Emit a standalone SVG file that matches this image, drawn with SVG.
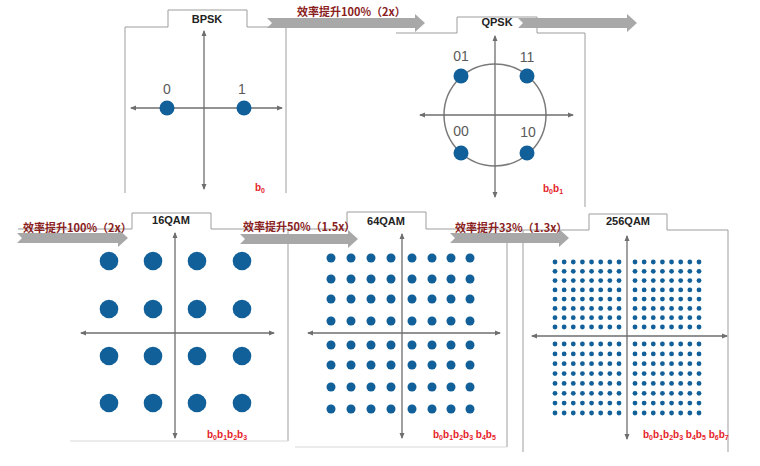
<svg xmlns="http://www.w3.org/2000/svg" xmlns:xlink="http://www.w3.org/1999/xlink" width="760" height="466" viewBox="0 0 760 466">
<style>
.frame{fill:none;stroke:#9d9d9d;stroke-width:1}
.faint{fill:none;stroke:#d8d8d8;stroke-width:1}
.axis{stroke:#6e6e6e;stroke-width:1.3;fill:none}
.dot{fill:#11609a}
.ring{fill:none;stroke:#7a7a7a;stroke-width:1.5}
.arrow{fill:#a8a8a8}
.title{font-family:"Liberation Sans",Arial,sans-serif;font-weight:bold;font-size:11px;fill:#222;text-anchor:middle}
.cn{font-family:"Noto Sans CJK SC","Liberation Serif",serif;font-size:11px;fill:#8a1d1d;font-weight:bold}
.lbl{font-family:"Liberation Sans",Arial,sans-serif;font-size:14px;fill:#5a5a5a;text-anchor:middle}
.bl{font-family:"Liberation Sans",Arial,sans-serif;font-weight:bold;font-size:10px;fill:#e5232a}
.s{font-size:7px}
</style>
<defs>
<marker id="ah" viewBox="0 0 6 6" refX="5" refY="3" markerWidth="6" markerHeight="6" orient="auto-start-reverse" markerUnits="userSpaceOnUse">
<path d="M0,0.5 L6,3 L0,5.5 Z" fill="#6e6e6e"/>
</marker>
<g id="row64">
<circle class="dot" cx="0" cy="0" r="4.5"/><circle class="dot" cx="20" cy="0" r="4.5"/><circle class="dot" cx="40" cy="0" r="4.5"/><circle class="dot" cx="60" cy="0" r="4.5"/><circle class="dot" cx="81" cy="0" r="4.5"/><circle class="dot" cx="101" cy="0" r="4.5"/><circle class="dot" cx="120" cy="0" r="4.5"/><circle class="dot" cx="139" cy="0" r="4.5"/>
</g>
<g id="row256">
<circle class="dot" cx="0" cy="0" r="2.4"/><circle class="dot" cx="9.14" cy="0" r="2.4"/><circle class="dot" cx="18.28" cy="0" r="2.4"/><circle class="dot" cx="27.42" cy="0" r="2.4"/><circle class="dot" cx="36.56" cy="0" r="2.4"/><circle class="dot" cx="45.7" cy="0" r="2.4"/><circle class="dot" cx="54.84" cy="0" r="2.4"/><circle class="dot" cx="64" cy="0" r="2.4"/>
<circle class="dot" cx="80" cy="0" r="2.4"/><circle class="dot" cx="89.14" cy="0" r="2.4"/><circle class="dot" cx="98.28" cy="0" r="2.4"/><circle class="dot" cx="107.42" cy="0" r="2.4"/><circle class="dot" cx="116.56" cy="0" r="2.4"/><circle class="dot" cx="125.7" cy="0" r="2.4"/><circle class="dot" cx="134.84" cy="0" r="2.4"/><circle class="dot" cx="144" cy="0" r="2.4"/>
</g>
</defs>
<rect width="760" height="466" fill="#ffffff"/>

<g id="bpsk">
<path class="frame" d="M125,193 V27 H168 V10 H247 V27 H286 V193"/>
<text class="title" x="207" y="23">BPSK</text>
<line class="axis" x1="204" y1="31" x2="204" y2="189" marker-start="url(#ah)" marker-end="url(#ah)"/>
<line class="axis" x1="131" y1="108" x2="282" y2="108" marker-start="url(#ah)" marker-end="url(#ah)"/>
<circle class="dot" cx="167" cy="108" r="7.5"/>
<circle class="dot" cx="244" cy="108" r="7.5"/>
<text class="lbl" x="167" y="94">0</text>
<text class="lbl" x="242" y="94">1</text>
<text class="bl" x="255" y="191">b<tspan class="s" dy="2">0</tspan></text>
</g>

<g id="qpsk">
<path class="frame" d="M396,33 H457 V17 H537 V33 H585 V207"/>
<text class="title" x="497" y="26">QPSK</text>
<circle class="ring" cx="495" cy="115" r="51"/>
<line class="axis" x1="495" y1="36" x2="495" y2="197" marker-start="url(#ah)" marker-end="url(#ah)"/>
<line class="axis" x1="420" y1="115" x2="573" y2="115" marker-start="url(#ah)" marker-end="url(#ah)"/>
<circle class="dot" cx="461" cy="76" r="7.5"/>
<circle class="dot" cx="527" cy="76" r="7.5"/>
<circle class="dot" cx="461" cy="153" r="7.5"/>
<circle class="dot" cx="527" cy="153" r="7.5"/>
<text class="lbl" x="461" y="61">01</text>
<text class="lbl" x="527" y="62">11</text>
<text class="lbl" x="461" y="136">00</text>
<text class="lbl" x="528" y="137">10</text>
<text class="bl" x="543" y="192">b<tspan class="s" dy="2">0</tspan><tspan dy="-2">b</tspan><tspan class="s" dy="2">1</tspan></text>
</g>

<g id="qam16">
<path class="frame" d="M18,229 H132 V213 H211 V229 H288 V441"/>
<path class="faint" d="M70,441 H288"/>
<text class="title" x="171" y="224">16QAM</text>
<line class="axis" x1="175" y1="233" x2="175" y2="438" marker-start="url(#ah)" marker-end="url(#ah)"/>
<line class="axis" x1="81" y1="333" x2="274" y2="333" marker-start="url(#ah)" marker-end="url(#ah)"/>
<g>
<circle class="dot" cx="109" cy="261" r="9.3"/><circle class="dot" cx="153" cy="261" r="9.3"/><circle class="dot" cx="197" cy="261" r="9.3"/><circle class="dot" cx="242" cy="261" r="9.3"/>
<circle class="dot" cx="109" cy="309" r="9.3"/><circle class="dot" cx="153" cy="309" r="9.3"/><circle class="dot" cx="197" cy="309" r="9.3"/><circle class="dot" cx="242" cy="309" r="9.3"/>
<circle class="dot" cx="109" cy="356" r="9.3"/><circle class="dot" cx="153" cy="356" r="9.3"/><circle class="dot" cx="197" cy="356" r="9.3"/><circle class="dot" cx="242" cy="356" r="9.3"/>
<circle class="dot" cx="109" cy="403" r="9.3"/><circle class="dot" cx="153" cy="403" r="9.3"/><circle class="dot" cx="197" cy="403" r="9.3"/><circle class="dot" cx="242" cy="403" r="9.3"/>
</g>
<text class="bl" x="207" y="438">b<tspan class="s" dy="2">0</tspan><tspan dy="-2">b</tspan><tspan class="s" dy="2">1</tspan><tspan dy="-2">b</tspan><tspan class="s" dy="2">2</tspan><tspan dy="-2">b</tspan><tspan class="s" dy="2">3</tspan></text>
</g>

<g id="qam64">
<path class="frame" d="M288,229 H347 V212 H426 V229 H507 V447"/>
<path class="faint" d="M295,447 H507"/>
<text class="title" x="386" y="225">64QAM</text>
<line class="axis" x1="402" y1="234" x2="402" y2="438" marker-start="url(#ah)" marker-end="url(#ah)"/>
<line class="axis" x1="308" y1="333" x2="500" y2="333" marker-start="url(#ah)" marker-end="url(#ah)"/>
<use xlink:href="#row64" x="331" y="258"/>
<use xlink:href="#row64" x="331" y="279"/>
<use xlink:href="#row64" x="331" y="299"/>
<use xlink:href="#row64" x="331" y="321"/>
<use xlink:href="#row64" x="331" y="345"/>
<use xlink:href="#row64" x="331" y="365"/>
<use xlink:href="#row64" x="331" y="387"/>
<use xlink:href="#row64" x="331" y="409"/>
<text class="bl" x="433" y="438">b<tspan class="s" dy="2">0</tspan><tspan dy="-2">b</tspan><tspan class="s" dy="2">1</tspan><tspan dy="-2">b</tspan><tspan class="s" dy="2">2</tspan><tspan dy="-2">b</tspan><tspan class="s" dy="2">3</tspan><tspan dy="-2"> b</tspan><tspan class="s" dy="2">4</tspan><tspan dy="-2">b</tspan><tspan class="s" dy="2">5</tspan></text>
</g>

<g id="qam256">
<path class="frame" d="M507,230 H589 V214 H667 V230 H728 V452"/>
<path class="frame" d="M523,230 V452"/>
<text class="title" x="628" y="225">256QAM</text>
<line class="axis" x1="627" y1="236" x2="627" y2="439" marker-start="url(#ah)" marker-end="url(#ah)"/>
<line class="axis" x1="532" y1="336" x2="727" y2="336" marker-start="url(#ah)" marker-end="url(#ah)"/>
<use xlink:href="#row256" x="555" y="262"/>
<use xlink:href="#row256" x="555" y="271.3"/>
<use xlink:href="#row256" x="555" y="280.6"/>
<use xlink:href="#row256" x="555" y="289.9"/>
<use xlink:href="#row256" x="555" y="299.1"/>
<use xlink:href="#row256" x="555" y="308.4"/>
<use xlink:href="#row256" x="555" y="317.7"/>
<use xlink:href="#row256" x="555" y="327"/>
<use xlink:href="#row256" x="555" y="344"/>
<use xlink:href="#row256" x="555" y="353.9"/>
<use xlink:href="#row256" x="555" y="363.7"/>
<use xlink:href="#row256" x="555" y="373.6"/>
<use xlink:href="#row256" x="555" y="383.4"/>
<use xlink:href="#row256" x="555" y="393.3"/>
<use xlink:href="#row256" x="555" y="403.1"/>
<use xlink:href="#row256" x="555" y="413"/>
<text class="bl" x="643" y="438">b<tspan class="s" dy="2">0</tspan><tspan dy="-2">b</tspan><tspan class="s" dy="2">1</tspan><tspan dy="-2">b</tspan><tspan class="s" dy="2">2</tspan><tspan dy="-2">b</tspan><tspan class="s" dy="2">3</tspan><tspan dy="-2"> b</tspan><tspan class="s" dy="2">4</tspan><tspan dy="-2">b</tspan><tspan class="s" dy="2">5</tspan><tspan dy="-2"> b</tspan><tspan class="s" dy="2">6</tspan><tspan dy="-2">b</tspan><tspan class="s" dy="2">7</tspan></text>
</g>

<g id="connectors">
<path class="arrow" d="M267,18 H415 V14 L425,23 L415,32 V28 H267 L272,23 Z"/>
<path class="arrow" d="M518,18 H627 V14 L637,23 L627,32 V28 H518 L523,23 Z"/>
<path class="arrow" d="M17,233 H118 V229 L128,238 L118,247 V243 H17 L22,238 Z"/>
<path class="arrow" d="M240,234 H348 V230 L358,239 L348,248 V244 H240 L245,239 Z"/>
<path class="arrow" d="M450,233 H559 V229 L569,238 L559,247 V243 H450 L455,238 Z"/>
<text class="cn" x="297" y="16">效率提升100%（2x）</text>
<text class="cn" x="23" y="232">效率提升100%（2x）</text>
<text class="cn" x="243" y="231">效率提升50%（1.5x）</text>
<text class="cn" x="455" y="232">效率提升33%（1.3x）</text>
</g>
</svg>
